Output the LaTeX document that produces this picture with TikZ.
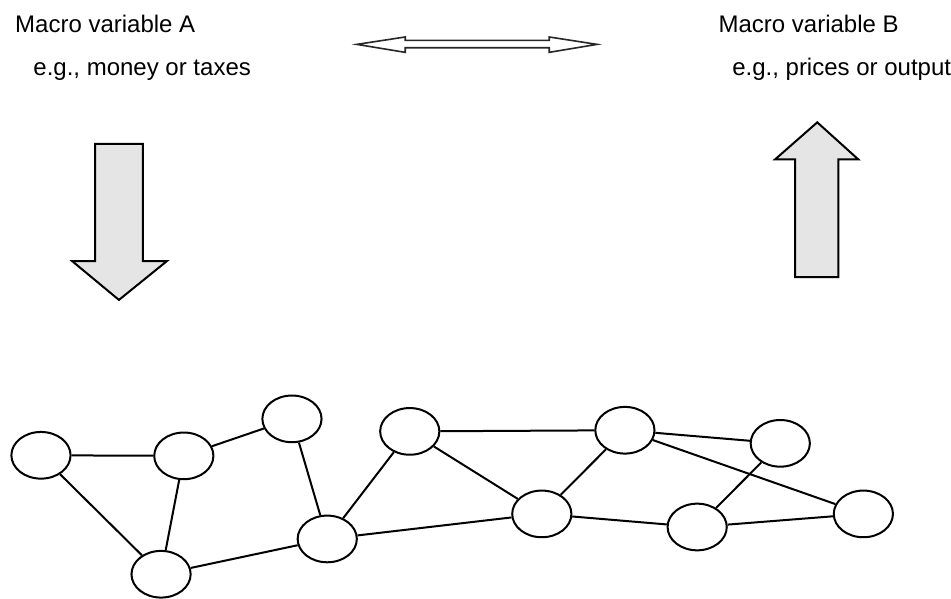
\documentclass[tikz,border=0pt]{standalone}
\usepackage{fontspec}
\setmainfont{Liberation Sans}
\usetikzlibrary{shapes.geometric}

\tikzset{
  agent/.style={draw,ellipse,line width=1pt,minimum width=1.04cm,minimum height=0.82cm,inner sep=0pt},
  link/.style={line width=1pt},
  macrotext/.style={anchor=base west,inner sep=0pt,font=\fontsize{12}{14}\selectfont},
  blockarrow/.style={draw,line width=1pt,fill=gray!20,line join=miter},
  twoway/.style={draw=black!85,line width=0.8pt,fill=white,line join=miter}
}

\begin{document}
\begin{tikzpicture}
\useasboundingbox (0,0) rectangle (16.71,10.51);
%Macro variables
  \node[macrotext] (MA) at (0.26,9.93) {Macro variable A};
  \node[macrotext] (MAe) at (0.58,9.19) {e.g., money or taxes};
  \node[macrotext] (MB) at (12.62,9.93) {Macro variable B};
  \node[macrotext] (MBe) at (12.86,9.19) {e.g., prices or output};
% two way arrow
  \path[twoway] (6.27,9.73) -- (7.12,9.86) -- (7.12,9.80) -- (9.65,9.80) -- (9.65,9.86)
    -- (10.49,9.73) -- (9.65,9.59) -- (9.65,9.67) -- (7.12,9.67) -- (7.12,9.59) -- cycle;
% down arrow
  \path[blockarrow] (1.67,7.98) -- (2.51,7.98) -- (2.51,5.92) -- (2.93,5.92)
    -- (2.09,5.24) -- (1.27,5.92) -- (1.67,5.92) -- cycle;
% up arrow
  \path[blockarrow] (13.97,5.64) -- (14.73,5.64) -- (14.73,7.71) -- (15.08,7.71)
    -- (14.36,8.36) -- (13.62,7.71) -- (13.97,7.71) -- cycle;

%First node
  \node[agent] (A) at (0.72,2.51) {};
% Second node
  \node[agent] (B) at (3.23,2.50) {};
% Third node
  \node[agent] (C) at (5.13,3.15) {};
% Fourth node
  \node[agent] (D) at (2.83,0.42) {};
% Fifth node
  \node[agent] (E) at (5.75,1.04) {};
% Sixth node
  \node[agent] (F) at (7.20,2.93) {};
% Seventh node
  \node[agent] (G) at (10.98,2.95) {};
% Eighth node
  \node[agent] (H) at (13.71,2.72) {};
% Ninth node
  \node[agent] (I) at (9.52,1.48) {};
% Tenth node
  \node[agent] (J) at (12.25,1.25) {};
% Eleventh node
  \node[agent] (K) at (15.17,1.48) {};

% bonds
  \draw[link] (A) -- (B);
  \draw[link] (A) -- (D);
  \draw[link] (B) -- (C);
  \draw[link] (B) -- (D);
  \draw[link] (C) -- (E);
  \draw[link] (D) -- (E);
  \draw[link] (E) -- (F);
  \draw[link] (E) -- (I);
  \draw[link] (F) -- (G);
  \draw[link] (F) -- (I);
  \draw[link] (G) -- (I);
  \draw[link] (G) -- (H);
  \draw[link] (G) -- (K);
  \draw[link] (H) -- (J);
  \draw[link] (I) -- (J);
  \draw[link] (J) -- (K);
\end{tikzpicture}
\end{document}
